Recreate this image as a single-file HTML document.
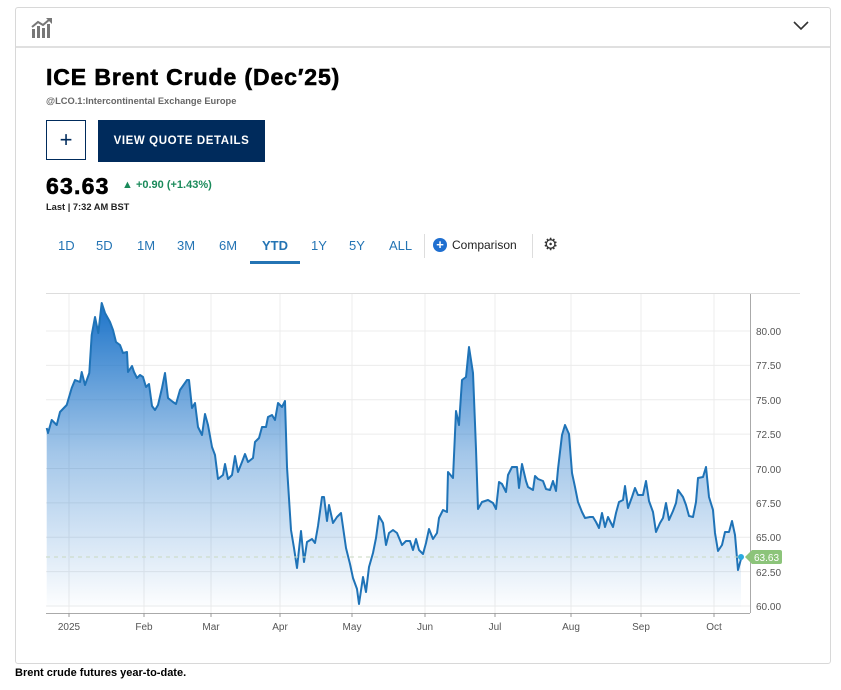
<!DOCTYPE html>
<html><head><meta charset="utf-8"><style>
body{margin:0;width:841px;height:690px;background:#fff;font-family:"Liberation Sans",sans-serif;position:relative;overflow:hidden}
.box{position:absolute;left:15px;top:7px;width:814px;height:655px;border:1px solid #d8d8d8;border-radius:3px}
.hdr{position:absolute;left:0;top:0;width:814px;height:38px;border-bottom:2px solid #e0e0e0}
.a{position:absolute;white-space:nowrap}
.tabs span{position:absolute;top:238px;font-size:13px;color:#2474b4}
</style></head><body>
<div class="box"><div class="hdr">
<svg style="position:absolute;left:15px;top:9px" width="22" height="22" viewBox="0 0 22 22"><g fill="#777"><rect x="1" y="12" width="3" height="9"/><rect x="6" y="9" width="3" height="12"/><rect x="11" y="11" width="3" height="10"/><rect x="16" y="7" width="3" height="14"/></g><path d="M1 10 L7 5 L12 8 L19 2" stroke="#777" stroke-width="2" fill="none"/><path d="M15 1 L21 1 L21 7Z" fill="#777"/></svg>
<svg style="position:absolute;left:777px;top:13px" width="16" height="10"><path d="M1 1 L8 8 L15 1" stroke="#333" stroke-width="1.6" fill="none"/></svg>
</div></div>
<div class="a" style="left:46px;top:64px;font-size:23px;font-weight:900;color:#000;letter-spacing:0.9px;-webkit-text-stroke:0.6px #000">ICE Brent Crude (Dec′25)</div>
<div class="a" style="left:46px;top:96px;font-size:9.3px;font-weight:bold;color:#666">@LCO.1:Intercontinental Exchange Europe</div>
<div class="a" style="left:46px;top:120px;width:40px;height:40px;border:1px solid #002b5c;box-sizing:border-box;text-align:center;line-height:38px;font-size:22px;color:#002b5c">+</div>
<div class="a" style="left:98px;top:120px;width:167px;height:42px;background:#002b5c;color:#fff;font-size:11.5px;font-weight:bold;letter-spacing:0.6px;text-align:center;line-height:42px">VIEW QUOTE DETAILS</div>
<div class="a" style="left:46px;top:173px;font-size:23px;font-weight:900;color:#000;letter-spacing:1.2px;-webkit-text-stroke:0.6px #000">63.63</div>
<div class="a" style="left:122px;top:179px;font-size:11px;font-weight:bold;color:#1a8a5a">▲ +0.90 (+1.43%)</div>
<div class="a" style="left:46px;top:202px;font-size:9.3px;font-weight:bold;color:#222">Last | 7:32 AM BST</div>
<div class="tabs"><span style="left:58px">1D</span><span style="left:96px">5D</span><span style="left:137px">1M</span><span style="left:177px">3M</span><span style="left:219px">6M</span><span style="left:262px;font-weight:bold">YTD</span><span style="left:311px">1Y</span><span style="left:349px">5Y</span><span style="left:389px">ALL</span></div>
<div class="a" style="left:250px;top:261px;width:50px;height:3px;background:#2474b4"></div>
<div class="a" style="left:424px;top:234px;width:1px;height:24px;background:#ddd"></div>
<div class="a" style="left:433px;top:238px;width:14px;height:14px;border-radius:50%;background:#1f6fd0;color:#fff;font-size:13px;line-height:14px;text-align:center;font-weight:bold">+</div>
<div class="a" style="left:452px;top:238px;font-size:12px;color:#222">Comparison</div>
<div class="a" style="left:532px;top:234px;width:1px;height:24px;background:#ddd"></div>
<div class="a" style="left:543px;top:235px;font-size:17px;color:#333">⚙</div>
<svg class="a" style="left:0;top:0" width="841" height="690">
<defs><linearGradient id="g" x1="0" y1="300" x2="0" y2="607" gradientUnits="userSpaceOnUse"><stop offset="0" stop-color="#1a72c8"/><stop offset="0.5" stop-color="#1a72c8" stop-opacity="0.4"/><stop offset="1" stop-color="#1a72c8" stop-opacity="0.01"/></linearGradient></defs>
<g stroke="#ececec" stroke-width="1">
<line x1="46" y1="331" x2="750" y2="331"/><line x1="46" y1="365.4" x2="750" y2="365.4"/><line x1="46" y1="399.8" x2="750" y2="399.8"/><line x1="46" y1="434.1" x2="750" y2="434.1"/><line x1="46" y1="468.5" x2="750" y2="468.5"/><line x1="46" y1="502.9" x2="750" y2="502.9"/><line x1="46" y1="537.3" x2="750" y2="537.3"/><line x1="46" y1="571.6" x2="750" y2="571.6"/><line x1="46" y1="606" x2="750" y2="606"/>
<line x1="69" y1="294" x2="69" y2="613"/><line x1="144" y1="294" x2="144" y2="613"/><line x1="211" y1="294" x2="211" y2="613"/><line x1="280" y1="294" x2="280" y2="613"/><line x1="352" y1="294" x2="352" y2="613"/><line x1="425" y1="294" x2="425" y2="613"/><line x1="495" y1="294" x2="495" y2="613"/><line x1="571" y1="294" x2="571" y2="613"/><line x1="641" y1="294" x2="641" y2="613"/><line x1="714" y1="294" x2="714" y2="613"/>
</g>
<line x1="46" y1="293.5" x2="800" y2="293.5" stroke="#ddd"/>
<line x1="46" y1="613.5" x2="750" y2="613.5" stroke="#aaa"/>
<line x1="750.5" y1="294" x2="750.5" y2="613" stroke="#aaa"/>
<g fill="#555" font-size="10" font-family="Liberation Sans">
<text x="756" y="335">80.00</text><text x="756" y="369">77.50</text><text x="756" y="404">75.00</text><text x="756" y="438">72.50</text><text x="756" y="473">70.00</text><text x="756" y="507">67.50</text><text x="756" y="541">65.00</text><text x="756" y="576">62.50</text><text x="756" y="610">60.00</text>
<g text-anchor="middle"><text x="69" y="630">2025</text><text x="144" y="630">Feb</text><text x="211" y="630">Mar</text><text x="280" y="630">Apr</text><text x="352" y="630">May</text><text x="425" y="630">Jun</text><text x="495" y="630">Jul</text><text x="571" y="630">Aug</text><text x="641" y="630">Sep</text><text x="714" y="630">Oct</text></g>
</g>
<g stroke="#999"><line x1="69" y1="613" x2="69" y2="617"/><line x1="144" y1="613" x2="144" y2="617"/><line x1="211" y1="613" x2="211" y2="617"/><line x1="280" y1="613" x2="280" y2="617"/><line x1="352" y1="613" x2="352" y2="617"/><line x1="425" y1="613" x2="425" y2="617"/><line x1="495" y1="613" x2="495" y2="617"/><line x1="571" y1="613" x2="571" y2="617"/><line x1="641" y1="613" x2="641" y2="617"/><line x1="714" y1="613" x2="714" y2="617"/></g>
<path id="p" d="M46.7 428 L48 433 L51.7 420 L56.7 425 L60 412 L66.7 405 L71.7 388 L75 380 L80 382 L81.7 372 L85 385 L89.3 373 L91.7 335 L95 317 L98.3 333 L101.7 303 L105 313 L110 322 L113 330 L116 342 L120 345 L123 353 L127 352 L128 372 L132 366 L134 372 L137 378 L140 375 L143 377 L146 387 L149 384 L152 406 L155 410 L158 405 L162 388 L165 373 L168 398 L173 402 L176 404 L180 390 L187 380 L189 380 L192 408 L195 403 L198 427 L202 435 L205 414 L208 425 L212 447 L215 455 L218 479 L223 475 L225 464 L228 479 L232 475 L235 456 L238 472 L242 462 L245 454 L248 462 L253 458 L255 442 L259 438 L262 427 L266 427 L268 417 L272 415 L275 420 L278 403 L282 407 L285 401 L287 467 L291 530 L294 548 L297 568 L301 531 L304 562 L307 542 L312 539 L315 543 L318 526 L322 497 L324 497 L327 521 L329 505 L333 523 L337 517 L341 513 L343 527 L346 548 L350 564 L353 578 L357 589 L359 604 L363 577 L366 592 L369 567 L373 553 L376 538 L379 516 L383 523 L386 545 L389 533 L393 530 L397 533 L402 545 L406 541 L410 541 L413 550 L416 539 L419 550 L423 554 L426 543 L429 529 L433 539 L437 533 L439 518 L443 510 L447 512 L448 472 L453 478 L456 411 L459 425 L462 380 L466 377 L469 347 L473 373 L476 449 L478 509 L482 502 L488 500 L493 503 L496 509 L499 482 L502 484 L506 492 L508 475 L512 467 L517 467 L519 488 L522 464 L526 481 L528 487 L533 490 L535 476 L538 479 L543 481 L546 489 L550 490 L553 481 L556 491 L558 469 L562 435 L565 425 L569 434 L572 473 L575 487 L578 502 L582 512 L585 518 L590 517 L593 517 L596 522 L599 528 L602 513 L605 527 L608 517 L613 527 L616 513 L619 502 L623 500 L625 486 L628 508 L632 497 L635 488 L638 495 L643 495 L646 481 L649 501 L653 512 L656 532 L660 523 L663 518 L666 503 L669 520 L673 511 L676 503 L678 490 L683 497 L686 505 L689 516 L693 517 L696 502 L698 478 L703 477 L706 467 L709 497 L713 510 L715 533 L718 551 L722 545 L725 532 L729 532 L732 521 L735 535 L738 570 L741 559" fill="none"/>
<path d="M46.7 428 L48 433 L51.7 420 L56.7 425 L60 412 L66.7 405 L71.7 388 L75 380 L80 382 L81.7 372 L85 385 L89.3 373 L91.7 335 L95 317 L98.3 333 L101.7 303 L105 313 L110 322 L113 330 L116 342 L120 345 L123 353 L127 352 L128 372 L132 366 L134 372 L137 378 L140 375 L143 377 L146 387 L149 384 L152 406 L155 410 L158 405 L162 388 L165 373 L168 398 L173 402 L176 404 L180 390 L187 380 L189 380 L192 408 L195 403 L198 427 L202 435 L205 414 L208 425 L212 447 L215 455 L218 479 L223 475 L225 464 L228 479 L232 475 L235 456 L238 472 L242 462 L245 454 L248 462 L253 458 L255 442 L259 438 L262 427 L266 427 L268 417 L272 415 L275 420 L278 403 L282 407 L285 401 L287 467 L291 530 L294 548 L297 568 L301 531 L304 562 L307 542 L312 539 L315 543 L318 526 L322 497 L324 497 L327 521 L329 505 L333 523 L337 517 L341 513 L343 527 L346 548 L350 564 L353 578 L357 589 L359 604 L363 577 L366 592 L369 567 L373 553 L376 538 L379 516 L383 523 L386 545 L389 533 L393 530 L397 533 L402 545 L406 541 L410 541 L413 550 L416 539 L419 550 L423 554 L426 543 L429 529 L433 539 L437 533 L439 518 L443 510 L447 512 L448 472 L453 478 L456 411 L459 425 L462 380 L466 377 L469 347 L473 373 L476 449 L478 509 L482 502 L488 500 L493 503 L496 509 L499 482 L502 484 L506 492 L508 475 L512 467 L517 467 L519 488 L522 464 L526 481 L528 487 L533 490 L535 476 L538 479 L543 481 L546 489 L550 490 L553 481 L556 491 L558 469 L562 435 L565 425 L569 434 L572 473 L575 487 L578 502 L582 512 L585 518 L590 517 L593 517 L596 522 L599 528 L602 513 L605 527 L608 517 L613 527 L616 513 L619 502 L623 500 L625 486 L628 508 L632 497 L635 488 L638 495 L643 495 L646 481 L649 501 L653 512 L656 532 L660 523 L663 518 L666 503 L669 520 L673 511 L676 503 L678 490 L683 497 L686 505 L689 516 L693 517 L696 502 L698 478 L703 477 L706 467 L709 497 L713 510 L715 533 L718 551 L722 545 L725 532 L729 532 L732 521 L735 535 L738 570 L741 559 L741 607 L46.7 607Z" fill="url(#g)"/>
<use href="#p" stroke="#1f73b7" stroke-width="2" stroke-linejoin="round"/>
<line x1="46" y1="557" x2="741" y2="557" stroke="#c8d8c0" stroke-dasharray="4,4"/>
<circle cx="741" cy="557" r="3" fill="#2aa9e0"/>
<path d="M745 557 L752 550 L780 550 Q782 550 782 552 L782 562 Q782 564 780 564 L752 564Z" fill="#8cc47a"/>
<text x="754" y="561" fill="#fff" font-size="10" font-family="Liberation Sans">63.63</text>
</svg>
<div class="a" style="left:15px;top:667px;font-size:11px;font-weight:bold;color:#000">Brent crude futures year-to-date.</div>
</body></html>
